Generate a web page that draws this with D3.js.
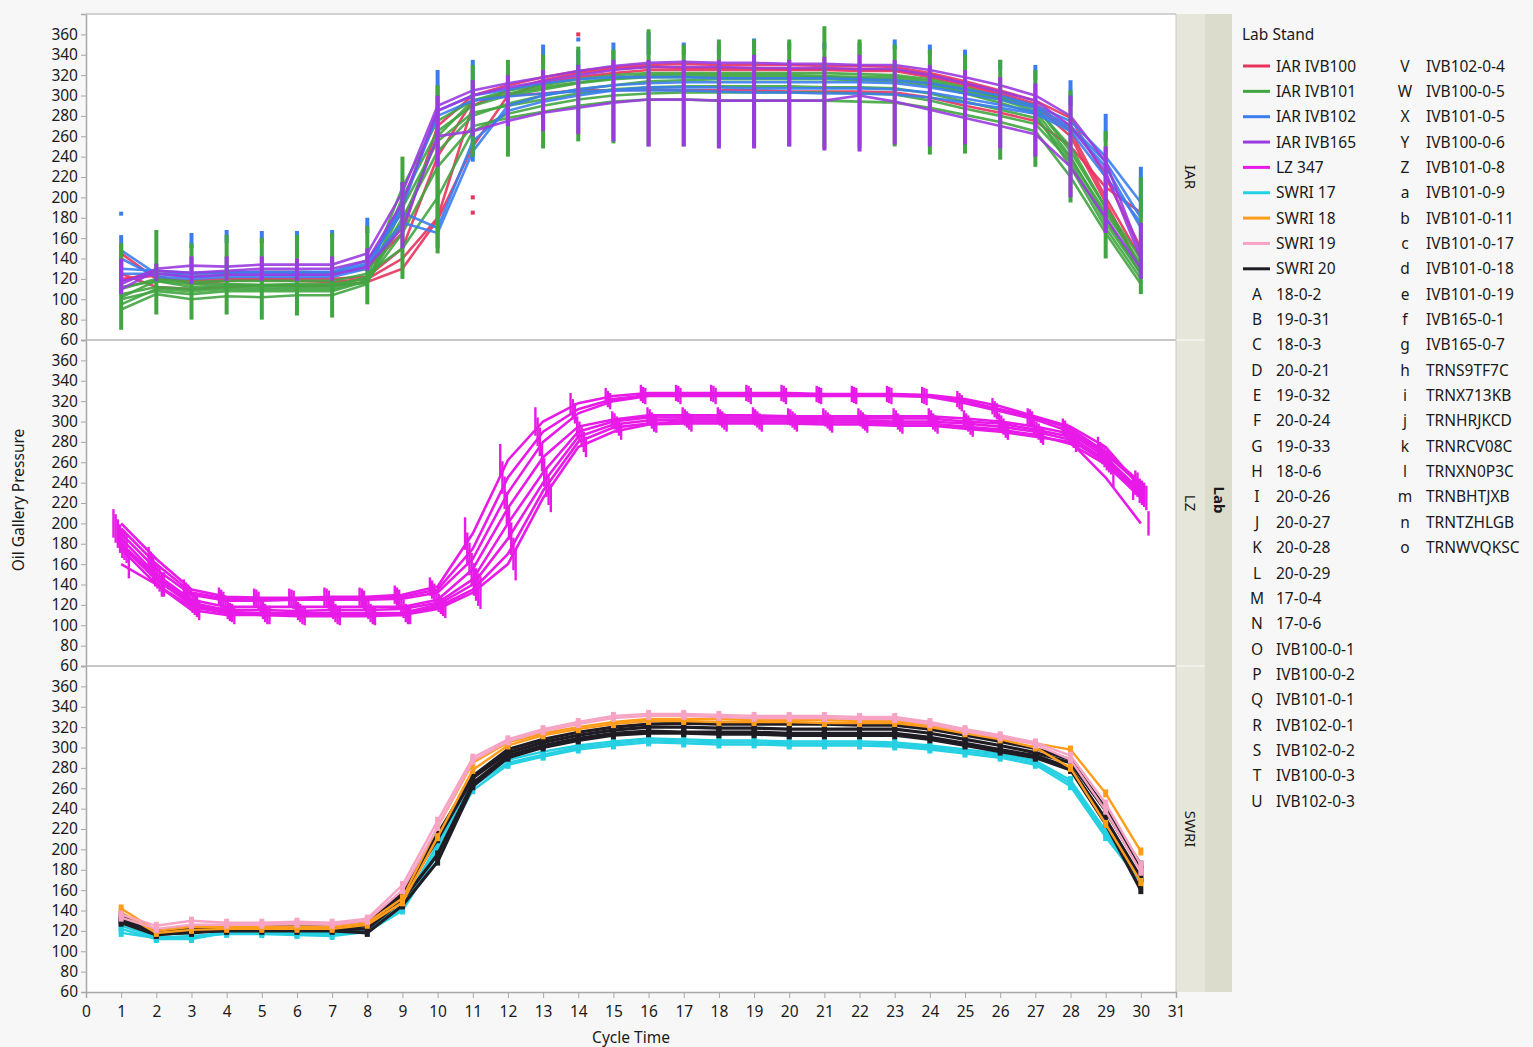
<!DOCTYPE html>
<html>
<head>
<meta charset="utf-8">
<script src="https://cdn.jsdelivr.net/npm/d3@7"></script>
<style>
  body { margin: 0; background: #f7f7f7; }
  text { font-family: "Noto Sans", sans-serif; fill: #1a1a1a; }
</style>
</head>
<body>
<svg id="chart"></svg>
<script>

// ---- data ----
var cycles = [1,2,3,4,5,6,7,8,9,10,11,12,13,14,15,16,17,18,19,20,21,22,23,24,25,26,27,28,29,30];
var xTicks = [0,1,2,3,4,5,6,7,8,9,10,11,12,13,14,15,16,17,18,19,20,21,22,23,24,25,26,27,28,29,30,31];
var yTicks = [60,80,100,120,140,160,180,200,220,240,260,280,300,320,340,360];
var labs = ["IAR", "LZ", "SWRI"];

var standNames = ["IAR IVB100","IAR IVB101","IAR IVB102","IAR IVB165","LZ 347","SWRI 17","SWRI 18","SWRI 19","SWRI 20"];
var standColors = ["#e8335c","#41a541","#3b7ded","#9a3be0","#e81ae8","#25d0e3","#ff9c1c","#f7a3c4","#201c24"];

var markerCodes = ["A","B","C","D","E","F","G","H","I","J","K","L","M","N","O","P","Q","R","S","T","U",
                   "V","W","X","Y","Z","a","b","c","d","e","f","g","h","i","j","k","l","m","n","o"];
var markerNames = ["18-0-2","19-0-31","18-0-3","20-0-21","19-0-32","20-0-24","19-0-33","18-0-6","20-0-26","20-0-27",
                   "20-0-28","20-0-29","17-0-4","17-0-6","IVB100-0-1","IVB100-0-2","IVB101-0-1","IVB102-0-1","IVB102-0-2",
                   "IVB100-0-3","IVB102-0-3","IVB102-0-4","IVB100-0-5","IVB101-0-5","IVB100-0-6","IVB101-0-8","IVB101-0-9",
                   "IVB101-0-11","IVB101-0-17","IVB101-0-18","IVB101-0-19","IVB165-0-1","IVB165-0-7","TRNS9TF7C","TRNX713KB",
                   "TRNHRJKCD","TRNRCV08C","TRNXN0P3C","TRNBHTJXB","TRNTZHLGB","TRNWVQKSC"];

// IAR lab
var iar_ivb100 = [
  [118,128,125,126,127,127,126,130,165,270,300,310,318,324,328,330,331,330,330,330,329,329,328,322,314,305,295,278,220,150],
  [120,123,115,118,119,118,117,120,140,180,290,305,315,322,326,328,327,327,327,326,326,326,325,320,312,302,292,265,200,140],
  [125,112,110,112,114,113,113,117,130,178,250,300,312,318,322,325,325,325,325,325,325,324,324,318,310,300,290,260,195,130],
  [145,120,118,120,120,120,120,122,150,240,295,300,302,305,305,306,305,305,305,304,304,304,303,298,290,283,275,250,210,185]
];
var iar_ivb101 = [
  [100,108,105,108,108,108,108,118,175,260,295,305,310,316,320,322,322,322,322,322,322,321,320,316,308,298,288,250,190,140],
  [90,105,100,103,102,104,104,115,200,265,290,300,306,312,316,318,318,318,318,318,318,317,316,312,304,296,285,240,180,125],
  [112,118,115,115,114,115,115,120,180,245,280,292,300,306,310,314,315,316,316,316,316,315,314,310,302,293,282,230,170,120],
  [95,110,108,110,110,110,110,118,165,230,270,278,284,290,294,296,296,295,295,295,295,294,293,288,281,274,265,220,165,115],
  [105,112,110,112,112,112,112,122,210,275,295,302,308,313,317,320,320,320,320,320,319,318,318,314,306,298,290,245,190,130],
  [110,120,117,118,118,118,118,125,150,200,265,282,290,296,300,302,303,303,303,303,303,302,301,295,287,280,272,235,175,125],
  [102,118,112,114,114,114,114,116,190,255,283,290,296,302,306,308,309,309,309,309,308,308,307,302,294,286,278,238,185,135]
];
var iar_ivb102 = [
  [148,125,125,126,126,126,126,135,190,285,300,306,312,316,318,318,318,317,317,317,317,316,315,312,306,300,290,275,240,195],
  [125,125,122,124,124,124,124,133,175,165,245,290,300,306,310,312,313,313,313,313,313,313,312,308,302,296,288,270,235,180],
  [130,128,126,127,127,127,127,138,185,170,255,285,294,300,305,308,308,308,307,307,307,307,306,303,297,291,284,268,230,170],
  [140,122,120,122,122,122,122,130,195,280,295,299,302,304,305,305,305,304,303,303,302,302,301,298,293,288,282,265,220,175]
];
var iar_ivb165 = [
  [115,130,133,132,134,134,134,145,205,290,305,312,318,324,329,332,333,332,332,331,331,330,330,325,318,310,300,280,235,145],
  [110,128,126,128,130,130,130,138,195,285,300,308,314,320,325,328,328,328,327,327,327,326,326,320,312,304,295,270,225,140],
  [118,125,122,124,124,124,124,132,170,260,265,275,283,288,293,296,296,295,295,295,295,300,294,286,278,270,262,230,180,130]
];
// spread of repeated readings at each cycle, per stand
var iar_blue_lo   = [120,120,150,155,155,155,160,165,180,150,235,270,330,320,330,340,340,340,345,345,345,340,345,340,335,325,315,290,255,180];
var iar_blue_hi   = [163,130,165,168,167,167,168,180,215,325,335,320,350,345,352,362,352,350,356,352,352,352,355,350,345,335,330,315,282,230];
var iar_green_lo  = [70,85,80,85,80,84,82,95,120,145,240,240,248,255,253,250,250,250,250,250,248,248,250,242,243,237,230,195,140,105];
var iar_green_hi  = [155,168,155,163,160,163,165,172,240,310,330,335,340,348,345,365,350,355,355,355,368,355,350,345,340,335,325,305,265,220];
var iar_purple_lo = [105,118,115,118,118,118,118,128,150,230,260,270,265,262,255,250,250,248,248,250,246,245,252,250,252,248,240,200,165,120];
var iar_purple_hi = [140,135,142,142,142,140,142,150,215,300,315,320,325,330,335,335,335,335,340,335,338,340,335,330,325,318,312,300,250,175];
var iar_outliers = [[1,184,"IAR IVB102"],[11,200,"IAR IVB100"],[11,185,"IAR IVB100"],[14,360,"IAR IVB100"],[14,355,"IAR IVB102"]];

// LZ lab
var lz_347 = [
  [200,165,135,128,127,127,128,128,130,138,190,262,300,318,325,328,328,328,328,328,327,327,327,326,322,315,305,295,275,235],
  [195,160,132,126,126,126,127,127,128,135,175,245,290,312,322,326,327,327,327,327,326,326,326,325,320,312,304,293,270,240],
  [190,155,130,124,124,125,125,125,126,132,165,230,280,308,320,325,325,325,325,325,325,325,325,324,318,310,302,290,268,238],
  [185,150,125,118,118,118,118,118,118,125,155,215,265,295,302,306,306,306,306,305,305,305,305,305,303,300,295,288,265,232],
  [180,148,122,115,115,114,115,115,116,122,145,200,250,290,300,304,304,304,304,304,303,303,303,303,300,298,292,285,262,230],
  [178,145,120,113,112,112,112,112,112,120,140,185,240,285,297,301,302,302,302,302,301,301,300,300,298,295,290,282,260,228],
  [175,140,118,112,110,110,110,110,110,118,135,170,232,280,294,298,300,300,300,300,299,299,298,298,295,292,287,278,258,225],
  [160,140,115,110,110,109,109,109,110,116,132,160,225,275,290,297,298,298,298,298,297,297,296,296,293,290,285,280,245,200]
];
var lz_spread = [14,12,10,9,9,9,9,9,9,9,16,16,14,10,8,8,8,8,8,8,8,8,8,8,8,8,8,8,10,12];

// SWRI lab
var swri_17 = [
  [122,112,112,118,118,117,117,120,142,200,262,285,293,300,304,307,306,305,305,304,304,304,303,300,296,292,285,265,215,170],
  [125,114,114,119,119,118,118,122,145,205,265,288,296,302,306,309,308,307,307,306,306,306,305,302,298,294,287,268,218,172],
  [118,113,115,117,117,116,115,119,140,195,258,283,291,298,302,305,304,303,303,302,302,302,301,298,294,290,283,262,212,168]
];
var swri_18 = [
  [142,120,124,124,124,124,124,128,152,222,285,305,314,320,325,328,328,328,327,327,327,326,326,322,316,310,304,298,255,198],
  [138,118,121,122,122,122,122,126,148,212,278,302,312,318,323,326,326,325,325,325,324,324,324,320,314,308,300,280,225,168]
];
var swri_19 = [
  [136,125,130,128,128,129,128,132,165,228,290,308,318,325,331,333,333,332,331,331,331,330,330,325,318,312,305,292,245,185],
  [133,122,126,126,126,127,126,130,160,222,287,306,316,323,329,331,331,330,329,329,329,328,328,323,316,310,303,288,238,178]
];
var swri_20 = [
  [132,118,120,122,122,122,122,125,155,210,270,295,305,312,317,320,320,319,319,318,318,318,318,314,308,302,295,285,238,180],
  [135,117,118,121,121,121,121,122,150,195,265,292,302,309,314,316,315,315,315,314,314,314,314,310,304,298,292,280,230,172],
  [130,120,123,124,124,124,124,128,158,215,272,298,308,315,320,323,324,323,323,323,323,322,322,318,312,306,299,288,240,185],
  [128,116,119,120,120,120,120,118,145,188,262,290,300,307,312,314,314,313,313,312,312,312,312,308,302,296,290,278,225,160]
];

// ---- layout ----
var W = 1533, H = 1047;
var plotLeft = 86, plotRight = 1176;
var panelTops = [14, 340, 666], panelH = 326;

function colorOf(name) { return standColors[standNames.indexOf(name)]; }

var svg = d3.select("#chart").attr("width", W).attr("height", H);

var x = d3.scaleLinear().domain([0, 31]).range([plotLeft, plotRight]);
var yScales = panelTops.map(function(t) {
  return d3.scaleLinear().domain([60, 380]).range([t + panelH, t]);
});

var lineGen = function(y) {
  return d3.line()
    .x(function(d, i) { return x(cycles[i]); })
    .y(function(d) { return y(d); });
};

// panels
labs.forEach(function(lab, p) {
  var y = yScales[p];
  svg.append("rect")
    .attr("x", plotLeft).attr("y", panelTops[p])
    .attr("width", plotRight - plotLeft).attr("height", panelH)
    .attr("fill", "#fff");
  svg.append("clipPath").attr("id", "clip" + p)
    .append("rect")
    .attr("x", plotLeft).attr("y", panelTops[p])
    .attr("width", plotRight - plotLeft).attr("height", panelH);

  var yAxis = svg.append("g")
    .attr("transform", "translate(" + plotLeft + ",0)")
    .call(d3.axisLeft(y).tickValues(yTicks).tickSize(5).tickPadding(3));
  yAxis.select(".domain").attr("stroke", "#a8a8a8").attr("stroke-width", 1.5);
  yAxis.selectAll(".tick line").attr("stroke", "#a8a8a8");
  yAxis.selectAll(".tick text").attr("font-size", "15.5px").attr("fill", "#1a1a1a")
    .attr("font-family", "Noto Sans");

  // strip
  svg.append("rect")
    .attr("x", plotRight).attr("y", panelTops[p])
    .attr("width", 29).attr("height", panelH)
    .attr("fill", "#e6e6da");
  svg.append("text")
    .text(lab)
    .attr("font-size", "15px")
    .attr("text-anchor", "middle")
    .attr("transform", "translate(" + (plotRight + 9) + "," + (panelTops[p] + panelH / 2) + ") rotate(90)");
});

// panel separators
[340, 666].forEach(function(s) {
  svg.append("line").attr("x1", plotLeft).attr("x2", plotRight).attr("y1", s).attr("y2", s)
    .attr("stroke", "#b4b4b4").attr("stroke-width", 1.5);
  svg.append("line").attr("x1", plotRight).attr("x2", plotRight + 29).attr("y1", s).attr("y2", s)
    .attr("stroke", "#f4f4ee").attr("stroke-width", 1.5);
});
svg.append("line").attr("x1", plotLeft).attr("x2", plotRight).attr("y1", 14).attr("y2", 14)
  .attr("stroke", "#c4c4c4").attr("stroke-width", 1.5);
svg.append("line").attr("x1", plotRight).attr("x2", plotRight).attr("y1", 14).attr("y2", 992)
  .attr("stroke", "#c8c8c8");

// outer "Lab" strip
svg.append("rect").attr("x", plotRight + 29).attr("y", 14)
  .attr("width", 27).attr("height", 978).attr("fill", "#dcdccc");
svg.append("text").text("Lab")
  .attr("font-size", "15px").attr("font-weight", "bold").attr("text-anchor", "middle")
  .attr("transform", "translate(" + (plotRight + 38) + ",500) rotate(90)");

// ---- IAR panel ----
var gIar = svg.append("g").attr("clip-path", "url(#clip0)");
var yI = yScales[0];
[["IAR IVB100", iar_ivb100], ["IAR IVB101", iar_ivb101], ["IAR IVB102", iar_ivb102], ["IAR IVB165", iar_ivb165]]
  .forEach(function(s) {
    s[1].forEach(function(vals) {
      gIar.append("path")
        .attr("d", lineGen(yI)(vals))
        .attr("fill", "none")
        .attr("stroke", colorOf(s[0]))
        .attr("stroke-width", 2.6)
        .attr("stroke-opacity", 0.9);
    });
  });
[["IAR IVB102", iar_blue_lo, iar_blue_hi], ["IAR IVB101", iar_green_lo, iar_green_hi], ["IAR IVB165", iar_purple_lo, iar_purple_hi]]
  .forEach(function(b) {
    gIar.selectAll(null).data(cycles).enter().append("rect")
      .attr("x", function(c) { return x(c) - 2; })
      .attr("width", 4)
      .attr("y", function(c, i) { return yI(b[2][i]); })
      .attr("height", function(c, i) { return yI(b[1][i]) - yI(b[2][i]); })
      .attr("fill", colorOf(b[0]));
  });
gIar.selectAll(null).data(iar_outliers).enter().append("rect")
  .attr("x", function(d) { return x(d[0]) - 2; })
  .attr("y", function(d) { return yI(d[1]) - 2; })
  .attr("width", 4).attr("height", 4)
  .attr("fill", function(d) { return colorOf(d[2]); });

// ---- LZ panel ----
var gLz = svg.append("g").attr("clip-path", "url(#clip1)");
var yL = yScales[1];
lz_347.forEach(function(vals, k) {
  gLz.append("path")
    .attr("d", lineGen(yL)(vals))
    .attr("fill", "none")
    .attr("stroke", colorOf("LZ 347"))
    .attr("stroke-width", 2.6);
  var off = (k - 3.5) * 2.2;
  gLz.selectAll(null).data(vals).enter().append("line")
    .attr("x1", function(v, i) { return x(cycles[i]) + off; })
    .attr("x2", function(v, i) { return x(cycles[i]) + off; })
    .attr("y1", function(v, i) { return yL(v + lz_spread[i]); })
    .attr("y2", function(v, i) { return yL(v - lz_spread[i]); })
    .attr("stroke", colorOf("LZ 347"))
    .attr("stroke-width", 2.4);
});

// ---- SWRI panel ----
var gSw = svg.append("g").attr("clip-path", "url(#clip2)");
var yS = yScales[2];
[["SWRI 17", swri_17], ["SWRI 20", swri_20], ["SWRI 18", swri_18], ["SWRI 19", swri_19]]
  .forEach(function(s) {
    s[1].forEach(function(vals) {
      gSw.append("path")
        .attr("d", lineGen(yS)(vals))
        .attr("fill", "none")
        .attr("stroke", colorOf(s[0]))
        .attr("stroke-width", s[0] == "SWRI 20" ? 3.2 : 2.4);
      gSw.selectAll(null).data(vals).enter().append("rect")
        .attr("x", function(v, i) { return x(cycles[i]) - 2.5; })
        .attr("y", function(v) { return yS(v) - 4; })
        .attr("width", 5).attr("height", 8)
        .attr("fill", colorOf(s[0]));
    });
  });

// x axis
var xAxis = svg.append("g")
  .attr("transform", "translate(0," + (panelTops[2] + panelH) + ")")
  .call(d3.axisBottom(x).tickValues(xTicks).tickSize(6).tickPadding(8));
xAxis.select(".domain").attr("stroke", "#a8a8a8").attr("stroke-width", 1.5);
xAxis.selectAll(".tick line").attr("stroke", "#a8a8a8");
xAxis.selectAll(".tick text").attr("font-size", "15.5px").attr("fill", "#1a1a1a")
  .attr("font-family", "Noto Sans");

// axis titles
svg.append("text").text("Cycle Time")
  .attr("x", 631).attr("y", 1043)
  .attr("font-size", "15.5px").attr("text-anchor", "middle");
svg.append("text").text("Oil Gallery Pressure")
  .attr("font-size", "15.5px").attr("text-anchor", "middle")
  .attr("transform", "translate(24,500) rotate(-90)");

// ---- legend ----
var leg = svg.append("g");
var rowH = 25.35, row0 = 66;
leg.append("text").text("Lab Stand")
  .attr("x", 1242).attr("y", 40).attr("font-size", "15.5px");
standNames.forEach(function(n, i) {
  var yy = row0 + i * rowH;
  leg.append("line").attr("x1", 1243).attr("x2", 1270).attr("y1", yy).attr("y2", yy)
    .attr("stroke", standColors[i]).attr("stroke-width", 3);
  leg.append("text").text(n).attr("x", 1276).attr("y", yy + 5.5).attr("font-size", "15.5px");
});
markerCodes.forEach(function(c, i) {
  var slot = standNames.length + i;
  var col = slot < 30 ? 0 : 1;
  var yy = row0 + (col == 0 ? slot : slot - 30) * rowH;
  leg.append("text").text(c)
    .attr("x", col == 0 ? 1257 : 1405).attr("y", yy + 5.5)
    .attr("font-size", "15.5px").attr("text-anchor", "middle");
  leg.append("text").text(markerNames[i])
    .attr("x", col == 0 ? 1276 : 1426).attr("y", yy + 5.5).attr("font-size", "15.5px");
});

</script>
</body>
</html>
